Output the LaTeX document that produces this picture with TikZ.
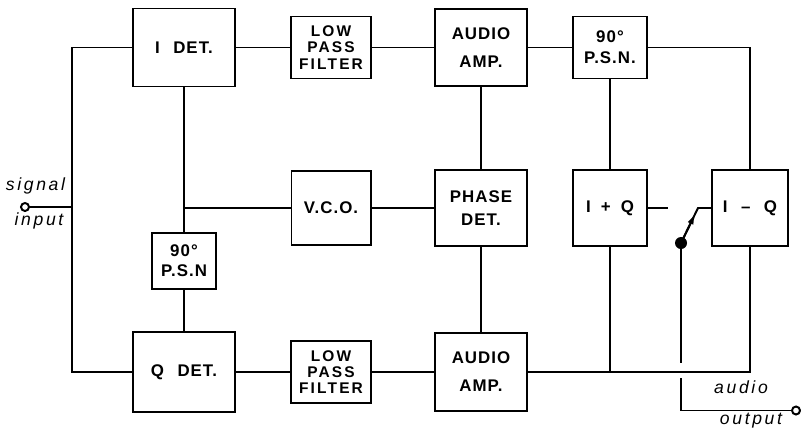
\documentclass[tikz,border=0pt]{standalone}
\usepackage{fontspec}
\usepackage{tikz}
\usetikzlibrary{arrows.meta, positioning, calc}
\newfontfamily\stencil[LetterSpace=6]{Liberation Sans}
\newfontfamily\stencilwide[LetterSpace=14]{Liberation Sans}
\newfontfamily\scrawl[LetterSpace=15]{Liberation Sans}

\begin{document}
\begin{tikzpicture}[
  x=0.025cm, y=-0.025cm,
  wire/.style={line width=1.4pt},
  block_box/.style={draw, rectangle, line width=1.4pt, align=center, inner sep=0pt, font=\stencil\bfseries\fontsize{12}{14}\selectfont},
  det_box/.style={block_box, minimum width=2.55cm, minimum height=1.95cm},
  filter_box/.style={block_box, minimum width=2.0cm, minimum height=1.55cm, font=\stencilwide\bfseries\fontsize{11}{11.5}\selectfont},
  amp_box/.style={block_box, minimum width=2.3cm, minimum height=1.93cm},
  psn_box/.style={block_box, minimum width=1.85cm, minimum height=1.55cm},
  sum_box/.style={block_box, minimum width=1.85cm, minimum height=1.88cm},
  hand_text/.style={font=\scrawl\itshape\fontsize{12.5}{14}\selectfont, inner sep=0pt, anchor=base},
  terminal/.style={circle, draw, line width=1.4pt, minimum size=0.2cm, inner sep=0pt, fill=white}
]
  \useasboundingbox (0,0) rectangle (801,429);

  % Top row: I channel
  \node (idet) [det_box] at (184,47.5) {I\hspace{0.8em}DET.};
  \node (lpf_top) [filter_box] at (331,47.5) {LOW\\PASS\\FILTER};
  \node (amp_top) [amp_box] at (481,47.5) {AUDIO\\[6pt]AMP.};
  \node (psn_top) [psn_box] at (610,47.5) {90°\\[1pt]P.S.N.};

  % Middle row: loop and sum/difference
  \node (vco) [block_box, minimum width=1.975cm, minimum height=1.85cm] at (331,208) {V.C.O.};
  \node (phase) [amp_box, minimum height=1.88cm] at (481,208) {PHASE\\[2pt]DET.};
  \node (ipq) [sum_box] at (610,208) {I\hspace{0.6em}+\hspace{0.6em}Q};
  \node (imq) [sum_box, minimum width=1.9cm] at (750,208) {I\hspace{0.8em}\textendash\hspace{0.8em}Q};
  \node (psn_left) [psn_box, minimum width=1.6cm, minimum height=1.38cm] at (184,261) {90°\\P.S.N};

  % Bottom row: Q channel
  \node (qdet) [det_box, minimum height=1.98cm] at (184,372) {Q\hspace{0.8em}DET.};
  \node (lpf_bot) [filter_box] at (331,372) {LOW\\PASS\\FILTER};
  \node (amp_bot) [amp_box] at (481,372) {AUDIO\\[6pt]AMP.};

  % Terminals and switch
  \node (sig_in) [terminal] at (25,207) {};
  \node (audio_out) [terminal] at (796,410.5) {};
  \node (sw_pivot) [circle, fill, inner sep=0pt, minimum size=0.3cm] at (681,243) {};
  \coordinate (sw_tip) at (698,208);

  \node [hand_text] at (35.5,190) {signal};
  \node [hand_text] at (39,225) {input};
  \node [hand_text] at (741,393) {audio};
  \node [hand_text] at (751,424) {output};

  % Connections
  \draw[wire] (idet.west) -- ++(-60,0) coordinate (bus_top) -- (bus_top |- qdet.west) -- (qdet.west);
  \draw[wire] (sig_in) -- (sig_in -| bus_top);
  \draw[wire] (idet) -- (lpf_top) -- (amp_top) -- (psn_top);
  \draw[wire] (psn_top.east) -| (imq.north);
  \draw[wire] (psn_top) -- (ipq);
  \draw[wire] (amp_top) -- (phase) -- (amp_bot);
  \draw[wire] (vco) -- (phase);
  \draw[wire] (idet) -- (psn_left) -- (qdet);
  \draw[wire] (vco.west) -- (vco.west -| idet.south);
  \draw[wire] (qdet) -- (lpf_bot) -- (amp_bot);
  \draw[wire] (amp_bot.east) -| (imq.south);
  \draw[wire] (ipq.south) -- (ipq.south |- amp_bot.east);
  \draw[wire] (ipq.east) -- ++(20,0);
  \draw[wire] (sw_pivot.center) -- (sw_tip) -- (sw_tip -| imq.west);
  \draw[wire, -{Latex[length=8pt, width=4.5pt]}] (sw_pivot.center) -- ($(sw_pivot.center)!0.85!(sw_tip)$);
  \draw[wire] (sw_pivot.center) -- ($(sw_pivot |- amp_bot.east)+(0,-9)$);
  \draw[wire] (audio_out.west) -| ($(sw_pivot |- amp_bot.east)+(0,6)$);

\end{tikzpicture}
\end{document}
